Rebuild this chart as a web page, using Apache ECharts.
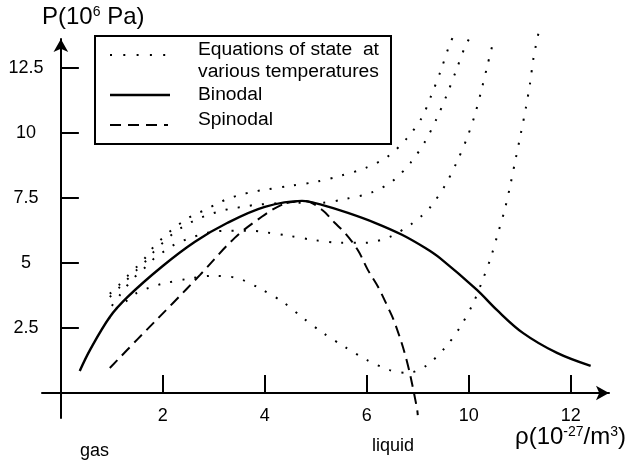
<!DOCTYPE html>
<html>
<head>
<meta charset="utf-8">
<script src="https://cdn.jsdelivr.net/npm/echarts@6/dist/echarts.min.js"></script>
<style>
  html, body { margin: 0; padding: 0; background: #fff; }
  #chart { width: 630px; height: 464px; }
</style>
</head>
<body>
<div id="chart"></div>
<script>
// tick positions on the density axis and the labels printed on them
const xTickValues = [2, 4, 6, 8, 10];
const xTickLabels = ["2", "4", "6", "10", "12"];
const yTickValues = [2.5, 5, 7.5, 10, 12.5];

// isotherms (equations of state), [density, pressure]
const isotherm1 = [[0.94,2.85],[1.10,3.27],[1.29,3.54],[1.49,3.85],[1.73,4.04],[1.98,4.19],[2.47,4.38],[2.96,4.50],[3.45,4.42],[3.92,4.0],[4.35,3.5],[4.75,2.88],[5.14,2.31],[5.57,1.77],[6.0,1.27],[6.45,0.88],[6.80,0.77],[7.16,1.04],[7.53,1.73],[7.82,2.5],[8.08,3.42],[8.25,4.23],[8.43,5.19],[8.57,6.12],[8.71,7.08],[8.82,8.04],[8.92,9.0],[9.02,9.96],[9.12,10.96],[9.2,11.88],[9.27,12.88],[9.37,13.85]];
const isotherm2 = [[1.0,3.35],[1.16,3.77],[1.31,4.15],[1.49,4.54],[1.67,4.85],[1.84,5.19],[2.04,5.46],[2.25,5.73],[2.49,5.92],[2.73,6.08],[2.96,6.19],[3.22,6.23],[3.47,6.23],[3.75,6.23],[3.96,6.19],[4.47,6.04],[4.96,5.88],[5.47,5.77],[5.96,5.77],[6.45,6.0],[6.88,6.5],[7.08,6.81],[7.25,7.15],[7.53,7.96],[7.76,8.85],[7.96,9.77],[8.12,10.69],[8.25,11.65],[8.37,12.62],[8.49,13.58]];
const isotherm3 = [[0.96,3.69],[1.14,4.04],[1.31,4.38],[1.49,4.73],[1.67,5.08],[1.82,5.42],[2.0,5.77],[2.2,6.12],[2.39,6.38],[2.61,6.62],[2.84,6.81],[3.08,6.96],[3.33,7.08],[3.57,7.15],[3.82,7.23],[4.59,7.31],[5.1,7.31],[5.59,7.46],[6.08,7.69],[6.51,8.15],[6.86,8.85],[7.14,9.65],[7.37,10.54],[7.57,11.46],[7.75,12.38],[7.92,13.27],[8.04,13.73]];
const isotherm4 = [[0.96,3.81],[1.14,4.15],[1.31,4.5],[1.49,4.85],[1.67,5.23],[1.82,5.62],[2.0,5.96],[2.2,6.31],[2.39,6.58],[2.61,6.85],[2.84,7.04],[3.06,7.27],[3.27,7.46],[3.53,7.62],[3.76,7.73],[4.0,7.81],[4.51,7.96],[5.02,8.12],[5.49,8.35],[5.98,8.65],[6.41,9.08],[6.78,9.77],[7.08,10.58],[7.27,11.46],[7.45,12.38],[7.61,13.31],[7.71,13.77]];

// coexistence curves
const binodal = [[0.37,0.85],[0.57,1.65],[0.96,2.92],[1.31,3.69],[1.98,4.85],[2.63,5.81],[3.27,6.54],[4.0,7.15],[4.73,7.38],[5.12,7.23],[5.63,6.92],[6.16,6.54],[6.69,6.08],[7.14,5.58],[7.43,5.19],[8.16,3.96],[8.55,3.19],[9.06,2.31],[9.73,1.54],[10.39,1.04]];
const spinodal = [[0.96,0.96],[1.51,2.08],[2.2,3.46],[2.73,4.54],[3.41,5.96],[3.94,6.77],[4.33,7.23],[4.59,7.35],[4.78,7.38],[5.12,7.04],[5.37,6.54],[5.57,6.15],[5.82,5.5],[6.02,4.73],[6.22,4.08],[6.41,3.31],[6.55,2.69],[6.78,1.27],[6.98,-0.54],[7.0,-0.85]];

const FONT = "Liberation Sans, Arial, sans-serif";
const chart = echarts.init(document.getElementById("chart"));

function dotted(data) {
  return {
    name: "Equations of state at various temperatures",
    type: "line",
    data: data,
    showSymbol: false,
    smooth: 0.3,
    clip: false,
    lineStyle: { color: "#000", width: 2, type: [2, 10.3], cap: "butt" },
  };
}

const axisCommon = {
  type: "value",
  splitLine: { show: false },
  axisLine: {
    show: true,
    onZero: true,
    symbol: ["none", "arrow"],
    symbolSize: [11, 13],
    lineStyle: { color: "#000", width: 2 },
  },
  axisTick: { show: true, inside: true, length: 18, lineStyle: { color: "#000", width: 2 } },
};

const options = {
  animation: false,
  backgroundColor: "#fff",
  grid: { left: 42, right: 21, top: 39, bottom: 46, containLabel: false, outerBoundsMode: "none" },
  xAxis: Object.assign({}, axisCommon, {
    min: -0.37,
    max: 10.75,
    axisTick: Object.assign({}, axisCommon.axisTick, { customValues: xTickValues }),
    axisLabel: {
      customValues: xTickValues,
      margin: -11,
      color: "#000",
      fontFamily: FONT,
      fontSize: 18,
      formatter: (v) => xTickLabels[xTickValues.indexOf(v)],
    },
  }),
  yAxis: Object.assign({}, axisCommon, {
    min: -0.96,
    max: 13.6,
    axisTick: Object.assign({}, axisCommon.axisTick, { customValues: yTickValues }),
    axisLabel: {
      customValues: yTickValues,
      margin: 16,
      align: "center",
      color: "#000",
      fontFamily: FONT,
      fontSize: 18,
    },
  }),
  series: [
    dotted(isotherm1),
    dotted(isotherm2),
    dotted(isotherm3),
    dotted(isotherm4),
    {
      name: "Binodal",
      type: "line",
      data: binodal,
      showSymbol: false,
      smooth: 0.35,
      lineStyle: { color: "#000", width: 2.4 },
    },
    {
      name: "Spinodal",
      type: "line",
      data: spinodal,
      showSymbol: false,
      smooth: 0.35,
      clip: false,
      lineStyle: { color: "#000", width: 2, type: [11, 6.5] },
    },
  ],
  graphic: [
    // legend
    { type: "rect", shape: { x: 95, y: 36, width: 296, height: 108 }, style: { fill: "#fff", stroke: "#000", lineWidth: 2 }, z: 10 },
    { type: "line", shape: { x1: 110, y1: 55, x2: 167, y2: 55 }, style: { stroke: "#000", lineWidth: 2, lineDash: [2, 11.3] }, z: 11 },
    { type: "line", shape: { x1: 110, y1: 95, x2: 170, y2: 95 }, style: { stroke: "#000", lineWidth: 2.4 }, z: 11 },
    { type: "line", shape: { x1: 110, y1: 125, x2: 168, y2: 125 }, style: { stroke: "#000", lineWidth: 2, lineDash: [11, 7] }, z: 11 },
    { type: "text", x: 198, y: 50, scaleX: 1.07, style: { text: "Equations of state  at", fill: "#000", font: "18px " + FONT, textVerticalAlign: "middle" }, z: 11 },
    { type: "text", x: 198, y: 72, scaleX: 1.07, style: { text: "various temperatures", fill: "#000", font: "18px " + FONT, textVerticalAlign: "middle" }, z: 11 },
    { type: "text", x: 198, y: 95, scaleX: 1.07, style: { text: "Binodal", fill: "#000", font: "18px " + FONT, textVerticalAlign: "middle" }, z: 11 },
    { type: "text", x: 198, y: 120, scaleX: 1.07, style: { text: "Spinodal", fill: "#000", font: "18px " + FONT, textVerticalAlign: "middle" }, z: 11 },
    // axis titles
    {
      type: "text", x: 42, y: 5,
      style: {
        text: "P(10{sup|6}{n| Pa)}",
        fill: "#000",
        font: "24px " + FONT,
        rich: {
          sup: { fontSize: 14, fontFamily: FONT, verticalAlign: "top", lineHeight: 8 },
          n: { fontSize: 24, fontFamily: FONT },
        },
      },
    },
    {
      type: "text", x: 515, y: 425,
      style: {
        text: "ρ(10{sup|-27}{n|/m}{sup|3}{n|)}",
        fill: "#000",
        font: "24px " + FONT,
        rich: {
          sup: { fontSize: 14, fontFamily: FONT, verticalAlign: "top", lineHeight: 8 },
          n: { fontSize: 24, fontFamily: FONT },
        },
      },
    },
    { type: "text", x: 80, y: 442, style: { text: "gas", fill: "#000", font: "18px " + FONT } },
    { type: "text", x: 372, y: 437, style: { text: "liquid", fill: "#000", font: "18px " + FONT } },
  ],
};

chart.setOption(options);
window.addEventListener("resize", () => chart.resize());
</script>
</body>
</html>
